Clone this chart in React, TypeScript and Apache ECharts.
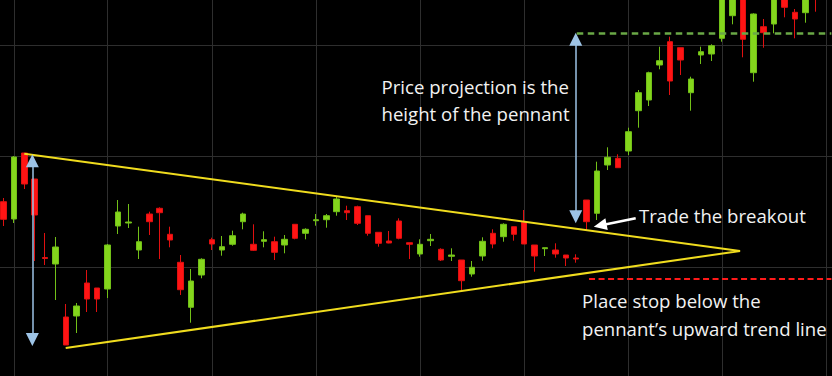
import React, { useEffect, useRef } from "react";
import * as echarts from "echarts";

// Price values (chart units), one entry per session
const opens = [
  174.3, 157, 223, 197, 118.5, 112, 59, 60, 93, 88,
  87, 150, 153, 126, 162, 167.7, 141.7, 113.7, 68.7, 101,
  136.3, 126, 131.7, 154.3, 131.7, 134.7, 134.3, 131, 151.7, 142.7,
  155.3, 156.3, 164.3, 165.3, 169.3, 160.3, 143.7, 135, 155, 133.3,
  122, 135.3, 126.7, 119.7, 116, 102, 120, 142.7, 139.3, 149.3,
  153.7, 131, 127.3, 126, 121, 118, 176, 162.7, 211, 217.7,
  225, 265.3, 276, 311, 334.3, 328.3, 283.3, 321, 322, 337.7,
  360.3, 395, 303.3, 349.3, 352, 385, 363.7, 363.3, 400, 385,
];
const closes = [
  156.7, 219, 192, 161, 117.5, 129, 31, 70, 77, 77,
  131, 164, 154, 134.3, 154.3, 163.3, 136, 86.3, 95, 116.7,
  132, 129.3, 140.3, 162, 125.7, 136.3, 123.7, 136.7, 137.7, 146.7,
  156.3, 160.3, 177, 163.3, 152.7, 142.7, 132.7, 133, 137.7, 131.7,
  131.7, 136.7, 116, 121, 95.3, 108.7, 134.7, 132, 151.7, 141.7,
  132, 120, 128.3, 122, 118, 117, 154.3, 205, 218.7, 208.3,
  244.3, 283.3, 303.3, 315.3, 295, 316, 297, 324.3, 330.3, 396,
  390, 336.7, 362, 343.3, 385, 368.7, 357, 390, 380, 400,
];
const lows = [
  150, 153, 187, 115, 111, 76, 31, 43, 64, 64,
  78, 142, 148, 117, 141, 117, 128.7, 81, 53.3, 97.7,
  126, 120.3, 130.3, 146.7, 125, 128.7, 116, 122.7, 136.7, 136.7,
  150.3, 148.3, 160.3, 156, 151, 140.3, 129.3, 132.7, 136.7, 117,
  119.3, 130, 115, 115, 86, 99.3, 115.3, 127.7, 134.3, 135.3,
  132, 104.3, 120, 118.3, 110, 113.3, 146, 156, 206, 208.3,
  221, 248.3, 270, 306.7, 281, 301, 265.3, 312, 315, 334.3,
  351.7, 318.7, 294.3, 328.3, 342.7, 358.7, 337.7, 353.3, 364.3, 380,
];
const highs = [
  178, 220, 223, 197, 143, 139, 72, 73, 106, 88,
  132, 176, 172, 149.3, 164.3, 168.7, 149.3, 121, 107, 117.7,
  138.3, 140, 145.3, 163.3, 151.7, 144.7, 139.3, 141, 151.7, 147.7,
  162, 162, 179.3, 170.3, 170.3, 160.3, 143.7, 145, 157.7, 133.3,
  136.7, 142, 127.7, 127.7, 116, 115, 138.7, 146.7, 152.7, 149.3,
  166, 131, 128.3, 132.7, 121, 121.7, 176, 214.3, 228.7, 221.7,
  248.3, 286, 304.3, 329.3, 339.3, 328.3, 299.3, 329.3, 331.7, 400,
  395, 398, 362.7, 357, 390, 390, 367, 396, 405, 405,
];

// Grid lines (session index / price)
const verticalGridAt = [1, 10, 20, 30, 40, 50, 60, 69, 79];
const horizontalGridAt = [108.3, 219.7, 331];

// Pennant outline: upper start -> apex -> lower start
const pennantX = [1.997, 70.73, 5.973];
const pennantY = [222.3, 125, 28];

// Annotation lines: [x1, y1, x2, y2]
const flagpoleArrow = [2.77, 215.2, 2.77, 36.5];
const projectionArrow = [54.95, 336.8, 54.95, 159.2];
const targetLine = [55.05, 343, 79.5, 343];
const stopLine = [56.23, 97, 79.5, 97];
const breakoutArrow = [60.71, 157.7, 57.3, 150.5];

const labels = [
  { text: "Price projection is the", x: 381.5, y: 86 },
  { text: "height of the pennant", x: 381.5, y: 113.5 },
  { text: "Trade the breakout", x: 639, y: 215.5 },
  { text: "Place stop below the", x: 582, y: 300.5 },
  { text: "pennant\u2019s upward trend line", x: 582, y: 328 },
];

export default function App() {
  const ref = useRef<HTMLDivElement>(null);
  useEffect(() => {
    document.body.style.margin = "0";
    document.body.style.background = "#000";
    if (!ref.current) return;
    const chart = echarts.init(ref.current, null, { renderer: "svg" });
    const candleData = opens.map((o, i) => [i, o, closes[i], lows[i], highs[i]]);
    const blue = "#9dc3e6";
    const option: any = {
      animation: false,
      backgroundColor: "#000000",
      grid: { left: 0, right: 0, top: 0, bottom: 0, containLabel: false },
      xAxis: {
        type: "value",
        min: -0.336,
        max: 79.56,
        show: false,
        splitLine: { show: false },
      },
      yAxis: {
        type: "value",
        min: 0,
        max: 376,
        show: false,
        splitLine: { show: false },
      },
      series: [
        {
          type: "candlestick",
          silent: true,
          dimensions: ["idx", "open", "close", "lowest", "highest"],
          encode: { x: 0, y: [1, 2, 3, 4] },
          data: candleData,
          barWidth: 6,
          z: 3,
          itemStyle: {
            color: "#84d61c",
            color0: "#ff1414",
            borderColor: "#72c018",
            borderColor0: "#e01010",
            borderWidth: 1,
          },
          markLine: {
            silent: true,
            z: 1,
            symbol: ["none", "none"],
            label: { show: false },
            lineStyle: { color: "#2e2e2e", width: 1, type: "solid" },
            data: [
              ...verticalGridAt.map((x) => ({ xAxis: x })),
              ...horizontalGridAt.map((y) => ({ yAxis: y })),
            ],
          },
        },
        {
          type: "line",
          silent: true,
          z: 4,
          data: pennantX.map((x, i) => [x, pennantY[i]]),
          symbol: "none",
          lineStyle: { color: "#f0dc1e", width: 2 },
          markLine: {
            silent: true,
            z: 6,
            label: { show: false },
            data: [
              [
                {
                  coord: [flagpoleArrow[0], flagpoleArrow[1]],
                  symbol: "triangle",
                  symbolSize: [13, 13],
                  lineStyle: { color: blue, width: 1.5, type: "solid" },
                },
                { coord: [flagpoleArrow[2], flagpoleArrow[3]], symbol: "triangle", symbolSize: [13, 13] },
              ],
              [
                {
                  coord: [projectionArrow[0], projectionArrow[1]],
                  symbol: "triangle",
                  symbolSize: [13, 13],
                  lineStyle: { color: blue, width: 1.5, type: "solid" },
                },
                { coord: [projectionArrow[2], projectionArrow[3]], symbol: "triangle", symbolSize: [13, 13] },
              ],
              [
                {
                  coord: [targetLine[0], targetLine[1]],
                  symbol: "none",
                  lineStyle: { color: "#6aa846", width: 2.5, type: [6.5, 4.5] },
                },
                { coord: [targetLine[2], targetLine[3]], symbol: "none" },
              ],
              [
                {
                  coord: [stopLine[0], stopLine[1]],
                  symbol: "none",
                  lineStyle: { color: "#ff1a1a", width: 2, type: [6, 3.5] },
                },
                { coord: [stopLine[2], stopLine[3]], symbol: "none" },
              ],
              [
                {
                  coord: [breakoutArrow[0], breakoutArrow[1]],
                  symbol: "none",
                  lineStyle: { color: "#ffffff", width: 2.5, type: "solid" },
                },
                { coord: [breakoutArrow[2], breakoutArrow[3]], symbol: "triangle", symbolSize: [12, 13] },
              ],
            ],
          },
        },
      ],
      graphic: labels.map((l) => ({
        type: "text",
        x: l.x,
        y: l.y,
        silent: true,
        z: 10,
        style: {
          text: l.text,
          fill: "#f2f2f2",
          font: '18.6px "Open Sans"',
          align: "left",
          verticalAlign: "middle",
        },
      })),
    };
    chart.setOption(option);
    return () => chart.dispose();
  }, []);
  return <div ref={ref} style={{ width: 832, height: 376, background: "#000" }} />;
}
